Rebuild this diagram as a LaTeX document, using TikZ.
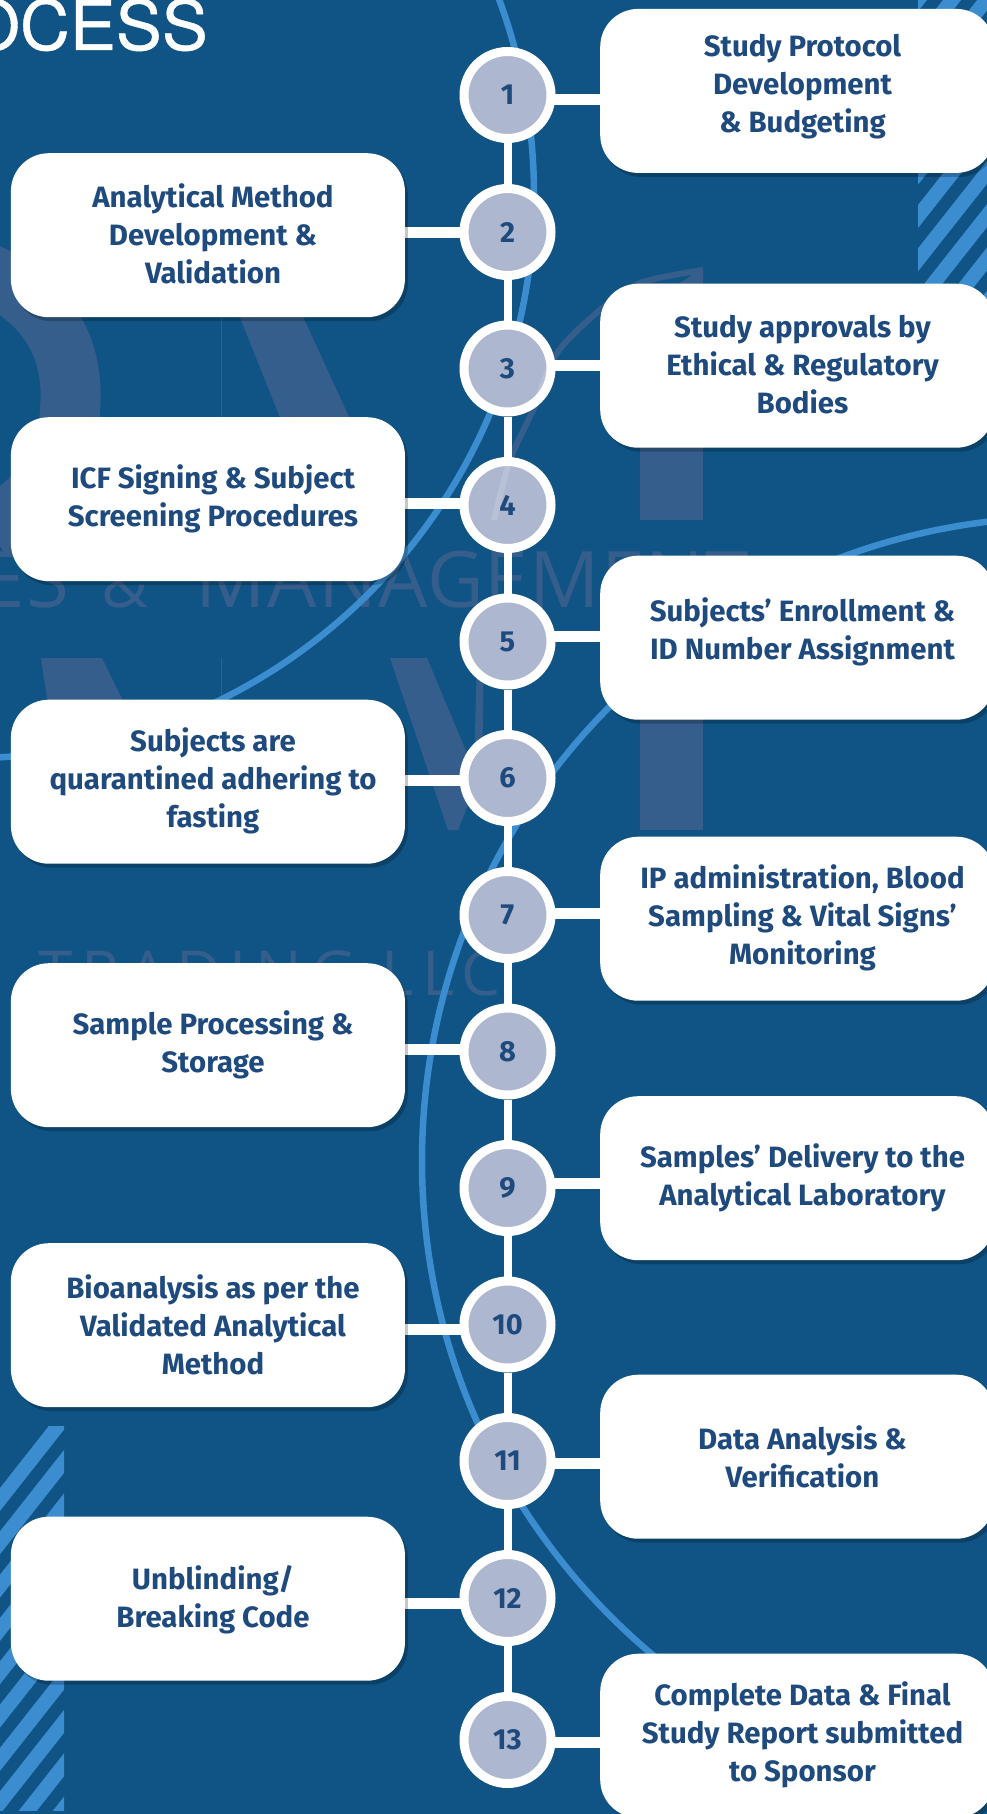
\documentclass[tikz,border=0pt]{standalone}
\usepackage{fontspec}
\setmainfont{Fira Sans}
\newfontfamily\wmfont[LetterSpace=1.5]{Open Sans}
\newfontfamily\wmfontb[LetterSpace=14]{Open Sans}
\newfontfamily\titlefont[FakeBold=0.6]{TeX Gyre Heros}
\usetikzlibrary{shadows,positioning}
\definecolor{bgblue}{RGB}{15,84,132}
\definecolor{wmcol}{RGB}{53,94,140}
\definecolor{linkblue}{RGB}{60,140,208}
\definecolor{inkblue}{RGB}{30,74,126}
\definecolor{discfill}{RGB}{173,183,207}
\pgfdeclarelayer{art}
\pgfdeclarelayer{links}
\pgfsetlayers{art,links,main}
\tikzset{
  card/.style={draw=none,fill=white,rounded corners=38pt,minimum width=394pt,minimum height=164pt,inner sep=0pt,anchor=north west,
    drop shadow={shadow xshift=3pt,shadow yshift=-4pt,opacity=.22,fill=black}},
  cardtext/.style={text=inkblue,font=\fontsize{29.4}{38}\selectfont\bfseries,align=center,inner sep=0pt},
  disc/.style={circle,draw=white,line width=9pt,fill=discfill,minimum size=87pt,inner sep=0pt,text=inkblue,font=\fontsize{29}{30}\selectfont\bfseries},
  spine/.style={draw=white,line width=8pt},
  rung/.style={draw=white,line width=11pt},
  arcline/.style={draw=linkblue,line width=6.5pt},
  stripe/.style={fill=linkblue}
}
\newcommand{\markshapes}[1]{%
  \fill[#1] (237,310)--(300,310)--(349,417)--(350,430)--(285,430)--cycle;
  \fill[#1] (640,283) rectangle (703,520);
  \fill[#1] (41,658)--(102,658)--(125,705)--(48,705)--cycle;
  \fill[#1] (390,658)--(427,658)--(474,770)--(477,658)--(484,658)--(482,770)--(458,830)--(448,830)--cycle;
  \fill[#1] (640,650) rectangle (703,830);
  \fill[#1] (680,283)--(703,283)--(703,268)--cycle;
  \draw[#1,line width=6pt,fill=none] plot[smooth] coordinates {(703,270)(640,283)(600,310)(557,353)(533,410)(510,460)(494,520)};
  \draw[#1,line width=60pt,fill=none] (-20,270) .. controls (50,300) and (75,350) .. (70,410) .. controls (68,460) and (40,500) .. (-10,530);
  \draw[#1,line width=1.5pt,fill=none] (221.5,310)--(221.5,420);
  \draw[#1,line width=1.5pt,fill=none] (221.5,658)--(221.5,705);
}
\begin{document}
\begin{tikzpicture}[x=1pt,y=-1pt]
\useasboundingbox (0,0) rectangle (987,1814);
\clip (0,0) rectangle (987,1814);

% discs
\node[disc] (n1) at (507.5,95) {1};
\node[disc] (n2) at (507.5,232) {2};
\node[disc] (n3) at (507.5,368.5) {3};
\node[disc] (n4) at (507.5,505) {4};
\node[disc] (n5) at (507.5,641.5) {5};
\node[disc] (n6) at (507.5,778) {6};
\node[disc] (n7) at (507.5,915) {7};
\node[disc] (n8) at (507.5,1051.5) {8};
\node[disc] (n9) at (507.5,1188) {9};
\node[disc] (n10) at (507.5,1324.5) {10};
\node[disc] (n11) at (507.5,1461) {11};
\node[disc] (n12) at (507.5,1598) {12};
\node[disc] (n13) at (507.5,1740) {13};

% cards
\node[card] (b1) at (600,8.7) {};
\node[card] (b2) at (10.7,153) {};
\node[card] (b3) at (600,283.5) {};
\node[card] (b4) at (10.7,417) {};
\node[card] (b5) at (600,555.5) {};
\node[card] (b6) at (10.7,699.5) {};
\node[card] (b7) at (600,836.5) {};
\node[card] (b8) at (10.7,963) {};
\node[card] (b9) at (600,1096) {};
\node[card] (b10) at (10.7,1243) {};
\node[card] (b11) at (600,1374.5) {};
\node[card] (b12) at (10.7,1516.5) {};
\node[card] (b13) at (600,1653.5) {};

% card texts
\node[cardtext] (t1) at (802.5,86.8) {Study Protocol\\Development\\\& Budgeting};
\node[cardtext] (t2) at (213,234) {Analytical Method\\Development \&\\Validation};
\node[cardtext] (t3) at (802.5,364.6) {Study approvals by\\Ethical \& Regulatory\\Bodies};
\node[cardtext] (t4) at (213,499) {ICF Signing \& Subject\\Screening Procedures};
\node[cardtext] (t5) at (802.5,632) {Subjects' Enrollment \&\\ID Number Assignment};
\node[cardtext] (t6) at (213,780.7) {Subjects are\\quarantined adhering to\\fasting};
\node[cardtext] (t7) at (802.5,917.5) {IP administration, Blood\\Sampling \& Vital Signs’\\Monitoring};
\node[cardtext] (t8) at (213,1044.8) {Sample Processing \&\\Storage};
\node[cardtext] (t9) at (802.5,1177.7) {Samples’ Delivery to the\\Analytical Laboratory};
\node[cardtext] (t10) at (213,1324.7) {Bioanalysis as per the\\Validated Analytical\\Method};
\node[cardtext] (t11) at (802.5,1457) {Data Analysis \&\\Verification};
\node[cardtext] (t12) at (213,1599.5) {Unblinding/\\Breaking Code};
\node[cardtext] (t13) at (802.5,1735) {Complete Data \& Final\\Study Report submitted\\to Sponsor};

% heights of the rungs
\coordinate (y1) at (0,100);
\coordinate (y2) at (0,232);
\coordinate (y3) at (0,365);
\coordinate (y4) at (0,503);
\coordinate (y5) at (0,636);
\coordinate (y6) at (0,780);
\coordinate (y7) at (0,913.5);
\coordinate (y8) at (0,1049.5);
\coordinate (y9) at (0,1183);
\coordinate (y10) at (0,1329);
\coordinate (y11) at (0,1463);
\coordinate (y12) at (0,1603);
\coordinate (y13) at (0,1742);

\begin{pgfonlayer}{art}
  \fill[bgblue] (0,0) rectangle (987,1814);
  % stripes
  \begin{scope}
    \clip (918,0) rectangle (987,300);
    \foreach \k in {-6,...,4}{
      \fill[stripe] (918,205+43.33*\k) -- (918,228+43.33*\k) -- (1000,228+43.33*\k-104) -- (1000,205+43.33*\k-104) -- cycle;
    }
  \end{scope}
  \begin{scope}
    \clip (0,1426) rectangle (64,1810);
    \foreach \k in {-1,...,10}{
      \fill[stripe] (64,1450+43.33*\k) -- (64,1473+43.33*\k) -- (-5,1473+43.33*\k+87.6) -- (-5,1450+43.33*\k+87.6) -- cycle;
    }
  \end{scope}
  % faint marks
  \markshapes{wmcol}
  \node[anchor=base east,inner sep=0pt,text=wmcol,font=\wmfont\fontsize{78}{80}\selectfont] (wm1) at (749,607) {ES\hspace{32pt}{\fontsize{64}{66}\selectfont\&}\hspace{48pt}MANAGEMENT};
  \node[anchor=base west,inner sep=0pt,text=wmcol,font=\wmfontb\fontsize{62}{64}\selectfont] (wm2) at (38,995) {TRADING LLC};
  % arcs
  \draw[arcline] (-29,195) circle[radius=563];
  \draw[arcline] (1066,1161) circle[radius=644];
  % title
  \node[anchor=base east,inner sep=0pt,text=white,font=\titlefont\fontsize{69}{72}\selectfont] (title) at (208,50) {PROCESS};
\end{pgfonlayer}

\begin{pgfonlayer}{links}
  \draw[spine] (n1)--(n2);\draw[spine] (n2)--(n3);\draw[spine] (n3)--(n4);\draw[spine] (n4)--(n5);
  \draw[spine] (n5)--(n6);\draw[spine] (n6)--(n7);\draw[spine] (n7)--(n8);\draw[spine] (n8)--(n9);
  \draw[spine] (n9)--(n10);\draw[spine] (n10)--(n11);\draw[spine] (n11)--(n12);\draw[spine] (n12)--(n13);
  \foreach \i in {1,3,5,7,9,11,13}{\draw[rung] (b\i.west |- y\i) -- (n\i.center |- y\i);}
  \foreach \i in {2,4,6,8,10,12}{\draw[rung] (b\i.east |- y\i) -- (n\i.center |- y\i);}
\end{pgfonlayer}

% the faint marks show through the discs
\begin{scope}
  \clip (n3.center) circle[radius=39] (n4.center) circle[radius=39];
  \markshapes{white,opacity=.14}
\end{scope}
\end{tikzpicture}
\end{document}
